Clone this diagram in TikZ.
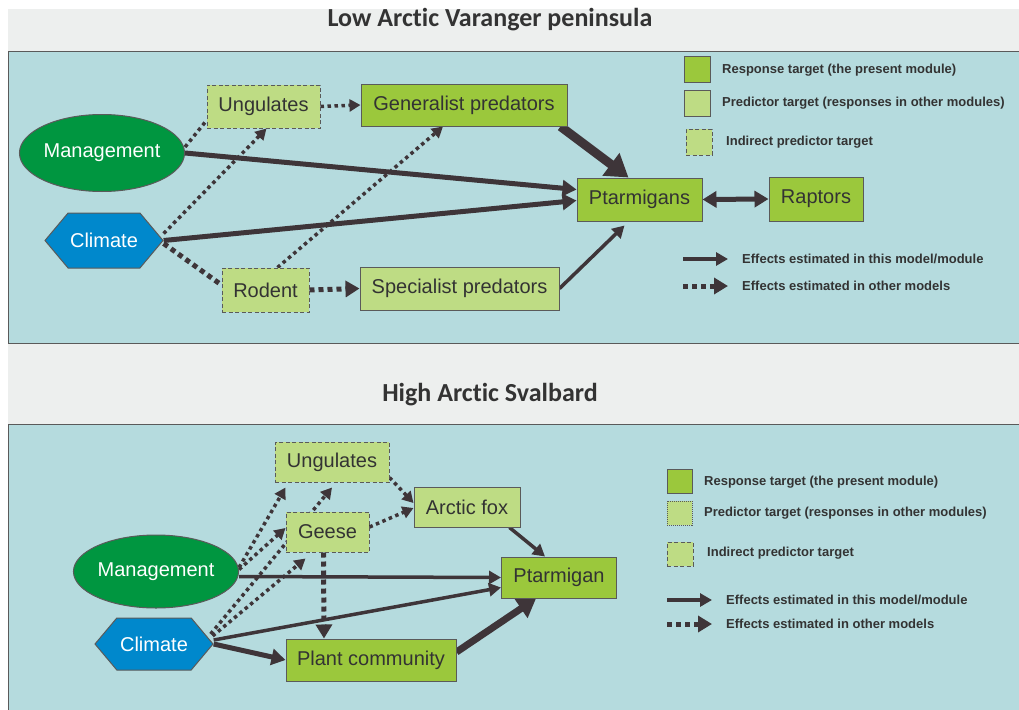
\documentclass[tikz,border=0pt]{standalone}
\usepackage{fontspec}
\setmainfont{Liberation Sans}
\newfontfamily\headfont[Ligatures={NoCommon,NoDiscretionary,NoRare}]{Carlito}
\usetikzlibrary{shapes.geometric,shapes.symbols,arrows.meta}

\definecolor{panelblue}{HTML}{B5DBDE}
\definecolor{headgray}{HTML}{EDEFEE}
\definecolor{respgreen}{HTML}{9BC83C}
\definecolor{predgreen}{HTML}{BEDC84}
\definecolor{mgmtgreen}{HTML}{009640}
\definecolor{climblue}{HTML}{0088CC}
\definecolor{arrowgray}{HTML}{3E3539}
\definecolor{boxline}{HTML}{5A5A5A}
\definecolor{txtgray}{HTML}{333333}

\pgfdeclarelayer{back}
\pgfdeclarelayer{edges}
\pgfsetlayers{back,edges,main}

\tikzset{
  box/.style={draw=boxline, line width=1pt, inner sep=0pt, text=txtgray, font=\fontsize{20}{24}\selectfont},
  resp/.style={box, fill=respgreen},
  pred/.style={box, fill=predgreen},
  indir/.style={box, fill=predgreen, dash pattern=on 4pt off 2.5pt},
  mgmt/.style={ellipse, draw=boxline, line width=1pt, fill=mgmtgreen, text=white, inner sep=0pt, font=\fontsize{20}{24}\selectfont},
  clim/.style={signal, signal to=east and west, signal pointer angle=100, draw=boxline, line width=1pt, fill=climblue, text=white, inner sep=0pt, font=\fontsize{20}{24}\selectfont},
  fxA/.style={draw=arrowgray, line width=3.5pt, -{Triangle[length=12pt,width=13pt]}},
  fxB/.style={draw=arrowgray, line width=5pt, -{Triangle[length=14pt,width=16pt]}},
  fxC/.style={draw=arrowgray, line width=7pt, -{Triangle[length=18pt,width=22pt]}},
  fxD/.style={draw=arrowgray, line width=9pt, -{Triangle[length=22pt,width=27pt]}},
  dotA/.style={draw=arrowgray, line width=3.5pt, dash pattern=on 3.5pt off 3.5pt},
  dotB/.style={draw=arrowgray, line width=5pt, dash pattern=on 5pt off 4pt},
  tipA/.style={-{Triangle[length=11pt,width=12pt]}},
  tipB/.style={-{Triangle[length=14pt,width=16pt]}},
  legtext/.style={anchor=west, inner sep=0pt, text=txtgray, font=\bfseries\fontsize{13}{15}\selectfont},
  headtext/.style={text=txtgray, font=\headfont\bfseries\fontsize{26}{30}\selectfont}
}

\begin{document}
\begin{tikzpicture}[x=1pt, y=-1pt]
  \useasboundingbox (0,0) rectangle (1019,709);
  \begin{pgfonlayer}{back}
    \fill[white] (0,0) rectangle (1019,709);
    \fill[headgray] (8,9) rectangle (1019,52);
    \filldraw[fill=panelblue, draw=boxline, line width=1pt] (8,52) rectangle (1030,343);
    \fill[headgray] (8,344) rectangle (1019,424);
    \filldraw[fill=panelblue, draw=boxline, line width=1pt] (8,424) rectangle (1030,720);
  \end{pgfonlayer}

  % Low Arctic
  \node[headtext] (ttlT) at (490,20) {Low Arctic Varanger peninsula};
  \node[indir, minimum width=113pt, minimum height=43pt] (ungT) at (263.5,106.5) {Ungulates};
  \node[resp, minimum width=206pt, minimum height=42pt] (genT) at (464,105) {Generalist predators};
  \node[mgmt, minimum width=126pt, minimum height=77pt] (mgT) at (102,153) {Management};
  \node[clim, minimum width=118pt, minimum height=55pt] (clT) at (104,240.5) {Climate};
  \node[indir, minimum width=87pt, minimum height=44pt] (rodT) at (265.5,290) {Rodent};
  \node[pred, minimum width=199pt, minimum height=43pt] (specT) at (459.5,288.5) {Specialist predators};
  \node[resp, minimum width=125pt, minimum height=43pt] (ptT) at (639.5,199.5) {Ptarmigans};
  \node[resp, minimum width=94pt, minimum height=44pt] (rapT) at (816,199) {Raptors};

  \node[resp, minimum width=26pt, minimum height=25pt] (lgRespT) at (697,69.5) {};
  \node[pred, minimum width=26pt, minimum height=26pt] (lgPredT) at (697,103) {};
  \node[indir, minimum width=26pt, minimum height=26pt] (lgIndT) at (699,142) {};
  \node[legtext] (lgRespTxtT) at (722,70) {Response target (the present module)};
  \node[legtext] (lgPredTxtT) at (722,103) {Predictor target (responses in other modules)};
  \node[legtext] (lgIndTxtT) at (726,142) {Indirect predictor target};
  \coordinate (lgSolAT) at (683,259);
  \coordinate (lgSolBT) at (728,259);
  \coordinate (lgDotAT) at (683,286);
  \coordinate (lgDotBT) at (728,286);
  \node[legtext] (lgSolTxtT) at (742,259) {Effects estimated in this model/module};
  \node[legtext] (lgDotTxtT) at (742,286) {Effects estimated in other models};

  % High Arctic
  \node[headtext] (ttlB) at (490,395) {High Arctic Svalbard};
  \node[indir, minimum width=114pt, minimum height=40pt] (ungB) at (332,462) {Ungulates};
  \node[pred, minimum width=106pt, minimum height=40pt] (foxB) at (467,507) {Arctic fox};
  \node[indir, minimum width=83pt, minimum height=40pt] (gsB) at (327.5,532) {Geese};
  \node[mgmt, minimum width=128pt, minimum height=73pt] (mgB) at (156,571.5) {Management};
  \node[resp, minimum width=115pt, minimum height=41pt] (ptB) at (559,577.5) {Ptarmigan};
  \node[clim, minimum width=118pt, minimum height=52pt] (clB) at (154,644) {Climate};
  \node[resp, minimum width=170pt, minimum height=42pt] (plB) at (371,660) {Plant community};

  \node[resp, minimum width=25pt, minimum height=24pt] (lgRespB) at (679.5,481) {};
  \node[pred, densely dotted, minimum width=25pt, minimum height=24pt] (lgPredB) at (679.5,513) {};
  \node[indir, minimum width=26pt, minimum height=24pt] (lgIndB) at (680,554) {};
  \node[legtext] (lgRespTxtB) at (704,482) {Response target (the present module)};
  \node[legtext] (lgPredTxtB) at (704,513) {Predictor target (responses in other modules)};
  \node[legtext] (lgIndTxtB) at (707,553) {Indirect predictor target};
  \coordinate (lgSolAB) at (667,600);
  \coordinate (lgSolBB) at (712,600);
  \coordinate (lgDotAB) at (667,624);
  \coordinate (lgDotBB) at (712,624);
  \node[legtext] (lgSolTxtB) at (726,600) {Effects estimated in this model/module};
  \node[legtext] (lgDotTxtB) at (726,624) {Effects estimated in other models};

  \begin{pgfonlayer}{edges}
    \draw[dotA] ([yshift=6pt]mgT.east) -- ([yshift=8pt]ungT.south west);
    \draw[dotA,tipA] ([yshift=7pt]clT.east) -- ([xshift=3pt]ungT.south);
    \draw[dotB] ([yshift=-3pt]clT.east) -- ([yshift=5pt]rodT.west);
    \draw[dotA,tipA] ([xshift=12pt]rodT.north) -- ([xshift=-21pt]genT.south);
    \draw[dotA,tipA] (ungT.east) -- (genT.west);
    \draw[dotB,tipB] (rodT.east) -- (specT.west);
    \draw[fxB] (mgT.east) -- ([yshift=10pt]ptT.west);
    \draw[fxB] (clT.east) -- ([yshift=-1pt]ptT.west);
    \draw[fxD] ([xshift=-7pt]genT.south east) -- ([xshift=-11pt]ptT.north);
    \draw[fxA] (specT.east) -- ([xshift=-15pt,yshift=-4pt]ptT.south);
    \draw[draw=arrowgray, line width=5pt, {Triangle[length=14pt,width=16pt]}-{Triangle[length=14pt,width=16pt]}] (ptT.east) -- (rapT.west);

    \draw[dotA,tipA] ([yshift=4pt]mgB.east) -- ([xshift=11pt,yshift=-5pt]ungB.south west);
    \draw[dotA,tipA] ([yshift=2pt]mgB.east) -- ([yshift=4pt]gsB.west);
    \draw[dotA,tipA] ([xshift=-3pt,yshift=10pt]clB.east) -- ([yshift=-5pt]ungB.south);
    \draw[dotA,tipA] ([xshift=-1pt,yshift=8pt]clB.east) -- ([xshift=-22pt,yshift=-6pt]gsB.south);
    \draw[dotA,tipA] ([yshift=5pt]ungB.south east) -- ([yshift=4pt]foxB.west);
    \draw[dotA,tipA] ([yshift=5pt]gsB.east) -- ([yshift=-1pt]foxB.west);
    \draw[dotB,tipB] ([xshift=-4pt]gsB.south) -- ([xshift=-47pt]plB.north);
    \draw[fxA] ([yshift=-5pt]mgB.east) -- (ptB.west);
    \draw[fxA] ([yshift=4pt]clB.east) -- ([yshift=-10pt]ptB.west);
    \draw[fxB] (clB.east) -- (plB.west);
    \draw[fxA] ([xshift=-11pt]foxB.south east) -- ([xshift=-14pt]ptB.north);
    \draw[fxC] ([yshift=8pt]plB.east) -- ([xshift=-23pt]ptB.south);

    \foreach \p in {T,B}{
      \draw[fxA] (lgSolA\p) -- (lgSolB\p);
      \draw[dotB,tipB] (lgDotA\p) -- (lgDotB\p);
    }
  \end{pgfonlayer}
\end{tikzpicture}
\end{document}
